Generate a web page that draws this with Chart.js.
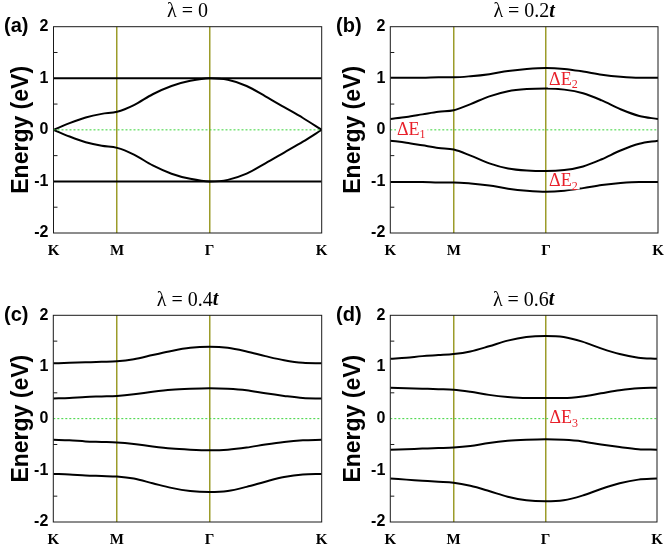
<!DOCTYPE html>
<html>
<head>
<meta charset="utf-8">
<script src="https://cdn.jsdelivr.net/npm/chart.js@4/dist/chart.umd.min.js"></script>
<style>
    body { margin: 0; background: #fff; }
    .panel { position: absolute; }
</style>
</head>
<body>
<div class="panel" style="left:0;top:0"><canvas id="chartA" width="332" height="272"></canvas></div>
<div class="panel" style="left:332px;top:0"><canvas id="chartB" width="332" height="272"></canvas></div>
<div class="panel" style="left:0;top:272px"><canvas id="chartC" width="332" height="273"></canvas></div>
<div class="panel" style="left:332px;top:272px"><canvas id="chartD" width="332" height="273"></canvas></div>
<script>
// k-path positions (K -> M -> Gamma -> K), fraction of the path
const kPath = [0, 0.06, 0.12, 0.18, 0.237, 0.30, 0.37, 0.44, 0.51, 0.582, 0.65, 0.72, 0.79, 0.86, 0.93, 1]
const kTicks = [0, 0.237, 0.582, 1]
const kLabels = ['K', 'M', 'Γ', 'K']

// (a) lambda = 0
const lam0Band1 = [1, 1, 1, 1, 1, 1, 1, 1, 1, 1, 1, 1, 1, 1, 1, 1]
const lam0Band2 = [0, 0.13, 0.24, 0.31, 0.35, 0.48, 0.69, 0.85, 0.95, 1.0, 0.97, 0.85, 0.65, 0.44, 0.23, 0]
const lam0Band3 = [0, -0.13, -0.24, -0.31, -0.35, -0.48, -0.69, -0.85, -0.95, -1.0, -0.97, -0.85, -0.65, -0.44, -0.23, 0]
const lam0Band4 = [-1, -1, -1, -1, -1, -1, -1, -1, -1, -1, -1, -1, -1, -1, -1, -1]

// (b) lambda = 0.2t
const lam02Band1 = [1.01, 1.01, 1.01, 1.02, 1.02, 1.04, 1.08, 1.14, 1.18, 1.20, 1.18, 1.13, 1.07, 1.03, 1.01, 1.01]
const lam02Band2 = [0.21, 0.25, 0.30, 0.35, 0.38, 0.50, 0.65, 0.75, 0.79, 0.80, 0.78, 0.71, 0.57, 0.40, 0.27, 0.21]
const lam02Band3 = [-0.21, -0.25, -0.30, -0.35, -0.38, -0.50, -0.65, -0.75, -0.79, -0.80, -0.78, -0.71, -0.57, -0.40, -0.27, -0.21]
const lam02Band4 = [-1.01, -1.01, -1.01, -1.02, -1.02, -1.04, -1.08, -1.14, -1.18, -1.20, -1.18, -1.13, -1.07, -1.03, -1.01, -1.01]

// (c) lambda = 0.4t
const lam04Band1 = [1.07, 1.08, 1.09, 1.10, 1.11, 1.15, 1.23, 1.31, 1.37, 1.39, 1.37, 1.30, 1.21, 1.13, 1.08, 1.07]
const lam04Band2 = [0.39, 0.40, 0.42, 0.43, 0.44, 0.47, 0.52, 0.56, 0.58, 0.59, 0.58, 0.55, 0.49, 0.44, 0.40, 0.39]
const lam04Band3 = [-0.41, -0.42, -0.44, -0.45, -0.46, -0.49, -0.54, -0.58, -0.60, -0.61, -0.60, -0.56, -0.50, -0.45, -0.42, -0.41]
const lam04Band4 = [-1.07, -1.08, -1.10, -1.11, -1.12, -1.16, -1.25, -1.34, -1.40, -1.42, -1.40, -1.32, -1.22, -1.13, -1.08, -1.07]

// (d) lambda = 0.6t
const lam06Band1 = [1.16, 1.18, 1.21, 1.23, 1.25, 1.30, 1.40, 1.51, 1.58, 1.60, 1.58, 1.49, 1.36, 1.25, 1.18, 1.16]
const lam06Band2 = [0.60, 0.59, 0.58, 0.57, 0.56, 0.52, 0.46, 0.42, 0.40, 0.40, 0.40, 0.43, 0.49, 0.55, 0.59, 0.60]
const lam06Band3 = [-0.60, -0.59, -0.58, -0.57, -0.56, -0.53, -0.47, -0.43, -0.41, -0.40, -0.41, -0.44, -0.50, -0.55, -0.59, -0.60]
const lam06Band4 = [-1.16, -1.18, -1.20, -1.22, -1.24, -1.30, -1.40, -1.51, -1.58, -1.60, -1.58, -1.49, -1.36, -1.25, -1.18, -1.16]

const energyMin = -2
const energyMax = 2

const olive = '#9c9c2a'
const fermiGreen = '#3ad43a'
const noteRed = '#e8202a'

// draws frame, minor ticks, titles, panel letters and the gap notes
const panelDecor = {
    id: 'panelDecor',
    afterDraw(chart, args, opts) {
        const { ctx, chartArea: a, scales: { x, y } } = chart
        ctx.save()

        ctx.strokeStyle = '#1a1a1a'
        ctx.lineWidth = 1
        ctx.strokeRect(a.left, a.top, a.width, a.height)

        ctx.beginPath()
        for (let v = energyMin + 0.5; v < energyMax; v += 1) {
            const py = y.getPixelForValue(v)
            ctx.moveTo(a.left, py)
            ctx.lineTo(a.left + 4, py)
        }
        ctx.stroke()

        // title: lambda = value, with italic t
        ctx.fillStyle = '#000'
        ctx.textBaseline = 'middle'
        ctx.textAlign = 'left'
        ctx.font = '20px "Liberation Serif"'
        const main = 'λ = ' + opts.lam
        const w1 = ctx.measureText(main).width
        ctx.font = 'bold italic 20px "Liberation Serif"'
        const w2 = opts.unit ? ctx.measureText(opts.unit).width : 0
        let tx = (a.left + a.right) / 2 - (w1 + w2) / 2
        const ty = a.top - 15
        ctx.font = '20px "Liberation Serif"'
        ctx.fillText(main, tx, ty)
        if (opts.unit) {
            ctx.font = 'bold italic 20px "Liberation Serif"'
            ctx.fillText(opts.unit, tx + w1, ty)
        }

        // panel letter
        ctx.font = 'bold 20px "Liberation Sans"'
        ctx.fillText(opts.letter, 4, a.top)

        // axis title
        ctx.save()
        ctx.translate(22, (a.top + a.bottom) / 2)
        ctx.rotate(-Math.PI / 2)
        ctx.textAlign = 'center'
        ctx.font = 'bold 23px "Liberation Sans"'
        ctx.fillText('Energy (eV)', 0, 0)
        ctx.restore()

        // gap notes
        opts.notes.forEach(n => {
            const px = x.getPixelForValue(n.k) + n.dx
            const py = y.getPixelForValue(n.e)
            ctx.font = '18px "Liberation Serif"'
            const wm = ctx.measureText('ΔE').width
            ctx.font = '12px "Liberation Serif"'
            const ws = ctx.measureText(n.sub).width
            ctx.fillStyle = '#fff'
            ctx.fillRect(px - 1, py - 8, wm + ws + 3, 16)
            ctx.fillStyle = noteRed
            ctx.font = '18px "Liberation Serif"'
            ctx.fillText('ΔE', px, py)
            ctx.font = '12px "Liberation Serif"'
            ctx.fillText(n.sub, px + wm, py + 5)
        })

        ctx.restore()
    }
}

function bandSet(values) {
    return {
        data: kPath.map((k, i) => ({ x: k, y: values[i] })),
        borderColor: '#000',
        borderWidth: 2,
        pointRadius: 0,
        fill: false,
        cubicInterpolationMode: 'monotone'
    }
}

function panelInit(id, bands, decor, box) {
    const fermiLine = {
        data: [{ x: 0, y: 0 }, { x: 1, y: 0 }],
        borderColor: fermiGreen,
        borderWidth: 1,
        borderDash: [2, 2],
        pointRadius: 0
    }

    const config = {
        type: 'line',
        data: {
            datasets: [fermiLine, ...bands.map(bandSet)]
        },
        options: {
            responsive: false,
            animation: false,
            layout: {
                padding: { left: 0, top: box.top, right: box.right, bottom: 0 }
            },
            plugins: {
                legend: { display: false },
                tooltip: { enabled: false },
                panelDecor: decor
            },
            scales: {
                x: {
                    type: 'linear',
                    min: 0,
                    max: 1,
                    afterBuildTicks: scale => { scale.ticks = kTicks.map(v => ({ value: v })) },
                    afterFit: scale => {
                        scale.height = box.xh
                        scale.paddingLeft = 0
                        scale.paddingRight = 0
                    },
                    grid: {
                        drawTicks: false,
                        lineWidth: 1.5,
                        color: c => (c.tick && c.tick.value > 0 && c.tick.value < 1) ? olive : 'rgba(0,0,0,0)'
                    },
                    border: { display: false },
                    ticks: {
                        autoSkip: false,
                        maxRotation: 0,
                        padding: 9,
                        color: '#000',
                        font: { family: '"Liberation Serif"', size: 15, weight: 'bold' },
                        callback: (v, i) => kLabels[i]
                    }
                },
                y: {
                    min: energyMin,
                    max: energyMax,
                    afterFit: scale => {
                        scale.width = box.yw
                        scale.paddingTop = 0
                        scale.paddingBottom = 0
                    },
                    grid: { display: false, drawTicks: false },
                    border: { display: false },
                    ticks: {
                        stepSize: 1,
                        padding: 5,
                        color: '#000',
                        font: { family: '"Liberation Sans"', size: 16, weight: 'bold' }
                    }
                }
            }
        },
        plugins: [panelDecor]
    }
    return new Chart(document.getElementById(id), config)
}

panelInit('chartA', [lam0Band1, lam0Band2, lam0Band3, lam0Band4],
    { letter: '(a)', lam: '0', unit: '', notes: [] },
    { yw: 53.5, right: 10.3, top: 26.7, xh: 39 })

panelInit('chartB', [lam02Band1, lam02Band2, lam02Band3, lam02Band4],
    { letter: '(b)', lam: '0.2', unit: 't', notes: [
        { sub: '2', k: 0.582, e: 0.97, dx: 3 },
        { sub: '2', k: 0.582, e: -1.0, dx: 3 },
        { sub: '1', k: 0.025, e: 0, dx: 0 }
    ] },
    { yw: 58.3, right: 6, top: 26.7, xh: 39 })

panelInit('chartC', [lam04Band1, lam04Band2, lam04Band3, lam04Band4],
    { letter: '(c)', lam: '0.4', unit: 't', notes: [] },
    { yw: 53.3, right: 10.3, top: 43.3, xh: 23 })

panelInit('chartD', [lam06Band1, lam06Band2, lam06Band3, lam06Band4],
    { letter: '(d)', lam: '0.6', unit: 't', notes: [
        { sub: '3', k: 0.582, e: 0, dx: 4 }
    ] },
    { yw: 58.3, right: 7, top: 43.3, xh: 23 })
</script>
</body>
</html>
